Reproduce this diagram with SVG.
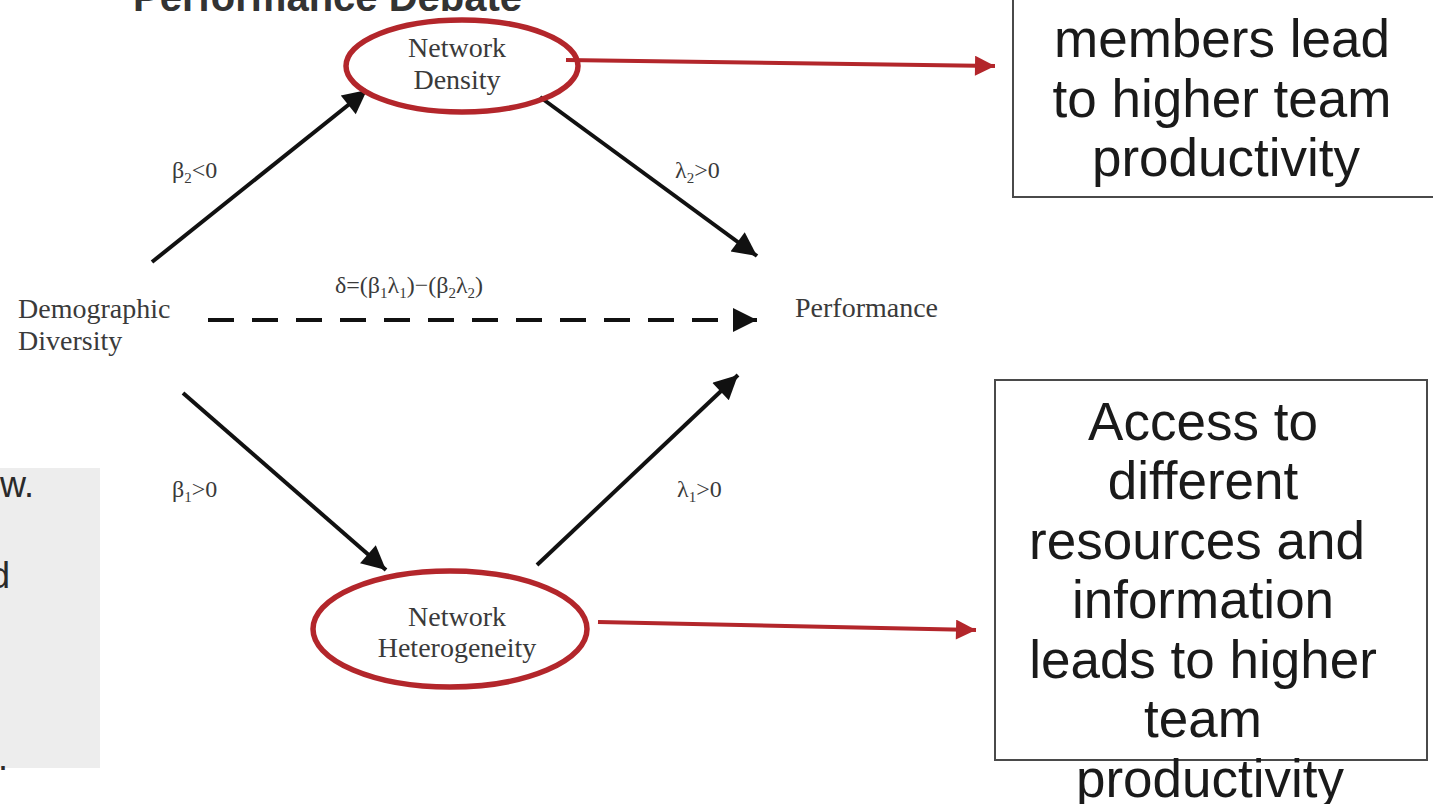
<svg xmlns="http://www.w3.org/2000/svg" width="1433" height="804" viewBox="0 0 1433 804">
  <style>
    .serif { font-family: "Liberation Serif", "Times New Roman", serif; fill: #3a3a3a; }
    .node { font-size: 28px; text-anchor: middle; }
    .lbl { font-size: 24px; }
    .box { fill: #ffffff; stroke: #4a4a4a; stroke-width: 2; }
    .boxtxt { font-family: "Liberation Sans", Arial, sans-serif; font-size: 53px; fill: #1a1a1a; text-anchor: middle; }
    .oval { fill: none; stroke: #b3262b; stroke-width: 5.5; }
    .blk { stroke: #111111; stroke-width: 4; fill: none; }
    .red { stroke: #b3262b; stroke-width: 4; fill: none; }
    .frag { font-family: "Liberation Sans", Arial, sans-serif; font-size: 36px; fill: #2a2a2a; }
  </style>
  <defs>
    <marker id="ah" viewBox="0 0 10 10" refX="10" refY="5" markerWidth="28" markerHeight="24" markerUnits="userSpaceOnUse" orient="auto">
      <path d="M0,0 L10,5 L0,10 z" fill="#111111"/>
    </marker>
    <marker id="ahr" viewBox="0 0 10 10" refX="10" refY="5" markerWidth="26" markerHeight="20" markerUnits="userSpaceOnUse" orient="auto">
      <path d="M0,0 L10,5 L0,10 z" fill="#b3262b"/>
    </marker>
  </defs>
  <rect x="0" y="0" width="1433" height="804" fill="#ffffff"/>

  <g id="left-panel">
    <rect x="0" y="468" width="100" height="300" fill="#ededed"/>
    <text class="frag" x="34" y="497" text-anchor="end">w.</text>
    <text class="frag" x="10" y="588" text-anchor="end">d</text>
    <text class="frag" x="8" y="770" text-anchor="end">.</text>
  </g>

  <g id="title">
    <text x="133" y="11" font-family="'Liberation Sans', Arial, sans-serif" font-weight="bold" font-size="40" fill="#333333">Performance Debate</text>
  </g>

  <g id="connectors">
    <line class="blk" x1="152" y1="262" x2="367" y2="90" marker-end="url(#ah)"/>
    <line class="blk" x1="540" y1="97" x2="757" y2="256" marker-end="url(#ah)"/>
    <line class="blk" x1="208" y1="320" x2="757" y2="320" stroke-width="5" stroke-dasharray="26 18" marker-end="url(#ah)"/>
    <line class="blk" x1="183" y1="393" x2="386" y2="570" marker-end="url(#ah)"/>
    <line class="blk" x1="537" y1="565" x2="738" y2="375" marker-end="url(#ah)"/>
    <line class="red" x1="566" y1="60" x2="995" y2="66" marker-end="url(#ahr)"/>
    <line class="red" x1="598" y1="622" x2="976" y2="630" marker-end="url(#ahr)"/>
  </g>

  <g id="labels" class="serif lbl">
    <text x="172" y="178">β<tspan font-size="15" dy="5">2</tspan><tspan dy="-5">&lt;0</tspan></text>
    <text x="675" y="178">λ<tspan font-size="15" dy="5">2</tspan><tspan dy="-5">&gt;0</tspan></text>
    <text x="172" y="497">β<tspan font-size="15" dy="5">1</tspan><tspan dy="-5">&gt;0</tspan></text>
    <text x="677" y="497">λ<tspan font-size="15" dy="5">1</tspan><tspan dy="-5">&gt;0</tspan></text>
    <text x="335" y="293">δ=(β<tspan font-size="15" dy="5">1</tspan><tspan dy="-5">λ</tspan><tspan font-size="15" dy="5">1</tspan><tspan dy="-5">)−(β</tspan><tspan font-size="15" dy="5">2</tspan><tspan dy="-5">λ</tspan><tspan font-size="15" dy="5">2</tspan><tspan dy="-5">)</tspan></text>
  </g>

  <g id="network-density">
    <ellipse class="oval" cx="462" cy="66" rx="116" ry="46"/>
    <text class="serif node" x="457" y="57">Network</text>
    <text class="serif node" x="457" y="89">Density</text>
  </g>

  <g id="network-heterogeneity">
    <ellipse class="oval" cx="450" cy="629" rx="137" ry="58"/>
    <text class="serif node" x="457" y="626">Network</text>
    <text class="serif node" x="457" y="657">Heterogeneity</text>
  </g>

  <g id="demographic-diversity">
    <text class="serif" font-size="28" x="18" y="318">Demographic</text>
    <text class="serif" font-size="28" x="18" y="350">Diversity</text>
  </g>

  <g id="performance">
    <text class="serif" font-size="28" x="795" y="317">Performance</text>
  </g>

  <g id="box-top">
    <rect class="box" x="1013" y="-10" width="440" height="207"/>
    <text class="boxtxt" x="1222" y="57">members lead</text>
    <text class="boxtxt" x="1222" y="117">to higher team</text>
    <text class="boxtxt" x="1226" y="176">productivity</text>
  </g>

  <g id="box-bottom">
    <rect class="box" x="995" y="380" width="432" height="380"/>
    <text class="boxtxt" x="1203" y="440">Access to</text>
    <text class="boxtxt" x="1203" y="499">different</text>
    <text class="boxtxt" x="1197" y="559">resources and</text>
    <text class="boxtxt" x="1203" y="618">information</text>
    <text class="boxtxt" x="1203" y="678">leads to higher</text>
    <text class="boxtxt" x="1203" y="737">team</text>
    <text class="boxtxt" x="1210" y="797">productivity</text>
  </g>
</svg>
